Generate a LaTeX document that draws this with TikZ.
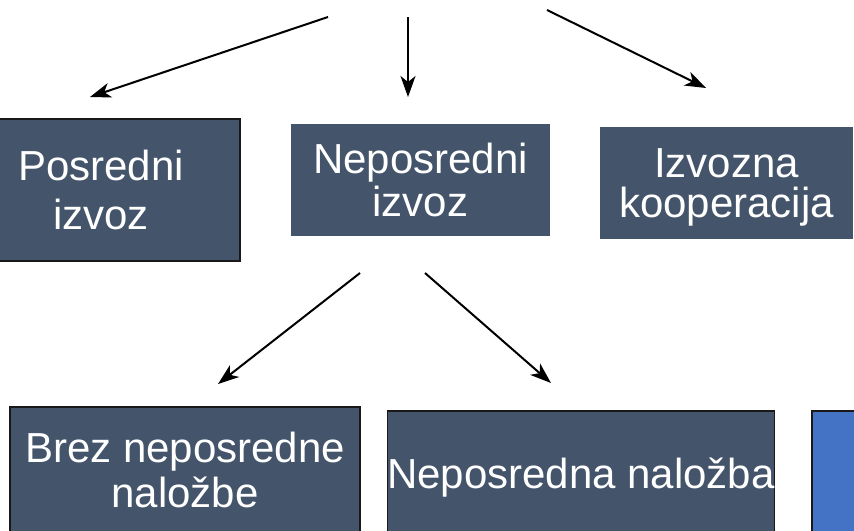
\documentclass[tikz,border=0pt]{standalone}
\usepackage{fontspec}
\setmainfont{Liberation Sans}
\usetikzlibrary{arrows.meta}
\definecolor{boxgray}{HTML}{44546A}
\definecolor{boxblue}{HTML}{4472C4}

\begin{document}
\begin{tikzpicture}[x=0.5pt, y=-0.5pt,
  box/.style={fill=boxgray, text=white, inner sep=0pt, align=center, text depth=0pt, font=\fontsize{21}{23}\selectfont},
  edge/.style={draw=black!90, line width=0.6pt},
  arr/.style={-{Stealth[length=10.5pt, width=7.5pt, inset=3pt]}, line width=1pt}]
\path[use as bounding box, clip] (0,0) rectangle (854,530);
\node[box, edge, minimum width=139pt, minimum height=71pt, font=\fontsize{21}{24.5}\selectfont] (posredni) at (101,190) {Posredni\\izvoz};
\node[box, minimum width=129.5pt, minimum height=56pt, font=\fontsize{21}{21.5}\selectfont] (neposredni) at (420.5,180) {Neposredni\\izvoz};
\node[box, minimum width=126.5pt, minimum height=56pt, font=\fontsize{21}{20}\selectfont] (kooperacija) at (726.5,183) {Izvozna\\kooperacija};
\node[box, edge, minimum width=175pt, minimum height=63pt, font=\fontsize{21}{22.5}\selectfont] (brez) at (185,470) {Brez neposredne\\naložbe};
\node[box, edge, minimum width=192pt, minimum height=62pt] (nalozba) at (581,473) {Neposredna naložba};
\node[box, edge, fill=boxblue, minimum width=100pt, minimum height=62pt] (modri) at (912,473) {};
\coordinate (t1) at (328,17);
\coordinate (t2) at (408,17);
\coordinate (t3) at (547,10);
\coordinate (p1) at (90,97);
\coordinate (p2) at (408,97);
\coordinate (p3) at (706,88);
\coordinate (n1) at (360,273);
\coordinate (n2) at (425,273);
\coordinate (q1) at (218,384);
\coordinate (q2) at (551,383);
\draw[arr] (t1) -- (p1);
\draw[arr] (t2) -- (p2);
\draw[arr] (t3) -- (p3);
\draw[arr] (n1) -- (q1);
\draw[arr] (n2) -- (q2);
\end{tikzpicture}
\end{document}
